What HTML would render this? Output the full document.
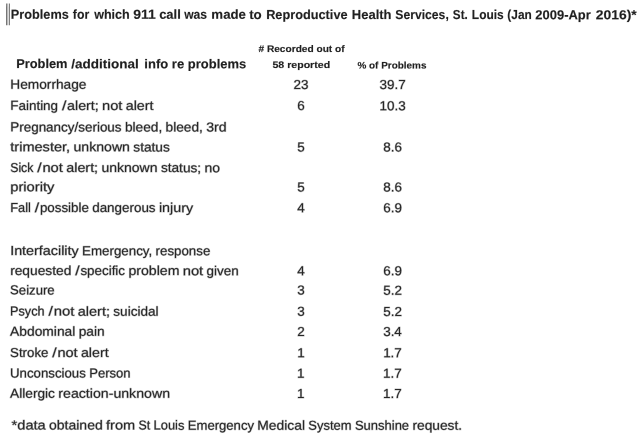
<!DOCTYPE html>
<html><head><meta charset="utf-8"><title>911 calls table</title>
<style>
html,body{margin:0;padding:0;background:#fff;}
body{width:640px;height:436px;overflow:hidden;}
svg{display:block;filter:blur(0.4px);}
text{font-family:"Liberation Sans",Arial,sans-serif;fill:#262626;stroke:#262626;stroke-opacity:0.32;stroke-width:1.0;stroke-linejoin:round;paint-order:stroke;white-space:pre;}
text.b{stroke-width:0.4;fill:#202020;stroke:#202020;}
</style></head><body>
<svg width="640" height="436" viewBox="0 0 640 436">
<rect x="-10" y="-10" width="660" height="456" fill="#ffffff"/>
<g transform="rotate(0.05 320 218)">
<rect x="6.1" y="3.8" width="1.1" height="21.6" fill="#4a4a4a"/>
<rect x="8.6" y="3.8" width="1.1" height="21.6" fill="#6e6e6e"/>
<text class="b" y="18.95" font-size="13.0" font-weight="700"><tspan x="10.70" textLength="57.90" lengthAdjust="spacingAndGlyphs">Problems</tspan> <tspan x="72.70" textLength="16.40" lengthAdjust="spacingAndGlyphs">for</tspan> <tspan x="94.00" textLength="35.60" lengthAdjust="spacingAndGlyphs">which</tspan> <tspan x="133.00" textLength="22.60" lengthAdjust="spacingAndGlyphs">911</tspan> <tspan x="159.00" textLength="21.60" lengthAdjust="spacingAndGlyphs">call</tspan> <tspan x="184.00" textLength="22.90" lengthAdjust="spacingAndGlyphs">was</tspan> <tspan x="211.20" textLength="34.60" lengthAdjust="spacingAndGlyphs">made</tspan> <tspan x="249.00" textLength="12.60" lengthAdjust="spacingAndGlyphs">to</tspan> <tspan x="266.00" textLength="81.40" lengthAdjust="spacingAndGlyphs">Reproductive</tspan> <tspan x="351.70" textLength="39.70" lengthAdjust="spacingAndGlyphs">Health</tspan> <tspan x="395.20" textLength="53.40" lengthAdjust="spacingAndGlyphs">Services,</tspan> <tspan x="452.70" textLength="14.90" lengthAdjust="spacingAndGlyphs">St.</tspan> <tspan x="471.70" textLength="31.90" lengthAdjust="spacingAndGlyphs">Louis</tspan> <tspan x="507.20" textLength="24.40" lengthAdjust="spacingAndGlyphs">(Jan</tspan> <tspan x="535.20" textLength="55.40" lengthAdjust="spacingAndGlyphs">2009-Apr</tspan> <tspan x="595.70" textLength="40.90" lengthAdjust="spacingAndGlyphs">2016)*</tspan></text>
<text class="b" y="52.05" font-size="9.5" font-weight="700"><tspan x="258.30" textLength="86.20" lengthAdjust="spacingAndGlyphs"># Recorded out of</tspan></text>
<text class="b" y="68.35" font-size="12.8" font-weight="700"><tspan x="16.00" textLength="51.40" lengthAdjust="spacingAndGlyphs">Problem</tspan> <tspan x="71.00" textLength="67.60" lengthAdjust="spacingAndGlyphs">/additional</tspan> <tspan x="144.20" textLength="23.90" lengthAdjust="spacingAndGlyphs">info</tspan> <tspan x="171.70" textLength="12.40" lengthAdjust="spacingAndGlyphs">re</tspan> <tspan x="187.70" textLength="58.40" lengthAdjust="spacingAndGlyphs">problems</tspan></text>
<text class="b" y="68.05" font-size="9.5" font-weight="700"><tspan x="272.30" textLength="57.70" lengthAdjust="spacingAndGlyphs">58 reported</tspan></text>
<text class="b" y="68.45" font-size="9.5" font-weight="700"><tspan x="357.30" textLength="69.00" lengthAdjust="spacingAndGlyphs">% of Problems</tspan></text>
<text y="89.05" font-size="13.0" font-weight="400"><tspan x="10.20" textLength="76.18" lengthAdjust="spacingAndGlyphs">Hemorrhage</tspan></text>
<text y="89.05" font-size="13.0" font-weight="400"><tspan x="293.51" textLength="14.97" lengthAdjust="spacingAndGlyphs">23</tspan></text>
<text y="89.05" font-size="13.0" font-weight="400"><tspan x="379.51" textLength="26.19" lengthAdjust="spacingAndGlyphs">39.7</tspan></text>
<text y="110.15" font-size="13.0" font-weight="400"><tspan x="10.20" textLength="47.77" lengthAdjust="spacingAndGlyphs">Fainting</tspan> <tspan x="61.93" textLength="4.40" lengthAdjust="spacingAndGlyphs">/</tspan><tspan x="66.96" textLength="31.67" lengthAdjust="spacingAndGlyphs">alert;</tspan> <tspan x="101.95" textLength="20.37" lengthAdjust="spacingAndGlyphs">not</tspan> <tspan x="125.64" textLength="27.74" lengthAdjust="spacingAndGlyphs">alert</tspan></text>
<text y="110.15" font-size="13.0" font-weight="400"><tspan x="297.26" textLength="7.49" lengthAdjust="spacingAndGlyphs">6</tspan></text>
<text y="110.15" font-size="13.0" font-weight="400"><tspan x="379.51" textLength="26.19" lengthAdjust="spacingAndGlyphs">10.3</tspan></text>
<text y="131.65" font-size="13.0" font-weight="400"><tspan x="10.20" textLength="111.30" lengthAdjust="spacingAndGlyphs">Pregnancy/serious</tspan> <tspan x="124.84" textLength="37.29" lengthAdjust="spacingAndGlyphs">bleed,</tspan> <tspan x="165.47" textLength="37.29" lengthAdjust="spacingAndGlyphs">bleed,</tspan> <tspan x="206.10" textLength="20.40" lengthAdjust="spacingAndGlyphs">3rd</tspan></text>
<text y="151.55" font-size="13.0" font-weight="400"><tspan x="10.20" textLength="59.90" lengthAdjust="spacingAndGlyphs">trimester,</tspan> <tspan x="73.46" textLength="56.44" lengthAdjust="spacingAndGlyphs">unknown</tspan> <tspan x="133.26" textLength="36.50" lengthAdjust="spacingAndGlyphs">status</tspan></text>
<text y="151.55" font-size="13.0" font-weight="400"><tspan x="297.26" textLength="7.49" lengthAdjust="spacingAndGlyphs">5</tspan></text>
<text y="151.55" font-size="13.0" font-weight="400"><tspan x="383.25" textLength="18.70" lengthAdjust="spacingAndGlyphs">8.6</tspan></text>
<text y="172.25" font-size="13.0" font-weight="400"><tspan x="10.20" textLength="23.14" lengthAdjust="spacingAndGlyphs">Sick</tspan> <tspan x="37.33" textLength="4.40" lengthAdjust="spacingAndGlyphs">/</tspan><tspan x="42.38" textLength="20.50" lengthAdjust="spacingAndGlyphs">not</tspan> <tspan x="66.21" textLength="31.86" lengthAdjust="spacingAndGlyphs">alert;</tspan> <tspan x="101.42" textLength="56.10" lengthAdjust="spacingAndGlyphs">unknown</tspan> <tspan x="160.86" textLength="40.24" lengthAdjust="spacingAndGlyphs">status;</tspan> <tspan x="204.43" textLength="15.55" lengthAdjust="spacingAndGlyphs">no</tspan></text>
<text y="191.55" font-size="13.0" font-weight="400"><tspan x="10.20" textLength="44.26" lengthAdjust="spacingAndGlyphs">priority</tspan></text>
<text y="191.55" font-size="13.0" font-weight="400"><tspan x="297.26" textLength="7.49" lengthAdjust="spacingAndGlyphs">5</tspan></text>
<text y="191.55" font-size="13.0" font-weight="400"><tspan x="383.25" textLength="18.70" lengthAdjust="spacingAndGlyphs">8.6</tspan></text>
<text y="212.25" font-size="13.0" font-weight="400"><tspan x="10.20" textLength="20.64" lengthAdjust="spacingAndGlyphs">Fall</tspan> <tspan x="34.83" textLength="4.40" lengthAdjust="spacingAndGlyphs">/</tspan><tspan x="39.88" textLength="48.99" lengthAdjust="spacingAndGlyphs">possible</tspan> <tspan x="92.21" textLength="63.37" lengthAdjust="spacingAndGlyphs">dangerous</tspan> <tspan x="158.92" textLength="34.28" lengthAdjust="spacingAndGlyphs">injury</tspan></text>
<text y="212.25" font-size="13.0" font-weight="400"><tspan x="297.26" textLength="7.49" lengthAdjust="spacingAndGlyphs">4</tspan></text>
<text y="212.25" font-size="13.0" font-weight="400"><tspan x="383.25" textLength="18.70" lengthAdjust="spacingAndGlyphs">6.9</tspan></text>
<text y="255.35" font-size="13.0" font-weight="400"><tspan x="10.20" textLength="68.56" lengthAdjust="spacingAndGlyphs">Interfacility</tspan> <tspan x="82.10" textLength="70.19" lengthAdjust="spacingAndGlyphs">Emergency,</tspan> <tspan x="155.62" textLength="54.71" lengthAdjust="spacingAndGlyphs">response</tspan></text>
<text y="275.25" font-size="13.0" font-weight="400"><tspan x="10.20" textLength="61.20" lengthAdjust="spacingAndGlyphs">requested</tspan> <tspan x="75.39" textLength="4.40" lengthAdjust="spacingAndGlyphs">/</tspan><tspan x="80.44" textLength="44.66" lengthAdjust="spacingAndGlyphs">specific</tspan> <tspan x="128.45" textLength="51.00" lengthAdjust="spacingAndGlyphs">problem</tspan> <tspan x="182.78" textLength="20.50" lengthAdjust="spacingAndGlyphs">not</tspan> <tspan x="206.62" textLength="32.12" lengthAdjust="spacingAndGlyphs">given</tspan></text>
<text y="275.25" font-size="13.0" font-weight="400"><tspan x="297.26" textLength="7.49" lengthAdjust="spacingAndGlyphs">4</tspan></text>
<text y="275.25" font-size="13.0" font-weight="400"><tspan x="383.25" textLength="18.70" lengthAdjust="spacingAndGlyphs">6.9</tspan></text>
<text y="294.65" font-size="13.0" font-weight="400"><tspan x="10.20" textLength="44.49" lengthAdjust="spacingAndGlyphs">Seizure</tspan></text>
<text y="294.65" font-size="13.0" font-weight="400"><tspan x="297.26" textLength="7.49" lengthAdjust="spacingAndGlyphs">3</tspan></text>
<text y="294.65" font-size="13.0" font-weight="400"><tspan x="383.25" textLength="18.70" lengthAdjust="spacingAndGlyphs">5.2</tspan></text>
<text y="315.85" font-size="13.0" font-weight="400"><tspan x="10.20" textLength="34.44" lengthAdjust="spacingAndGlyphs">Psych</tspan> <tspan x="48.69" textLength="4.40" lengthAdjust="spacingAndGlyphs">/</tspan><tspan x="53.77" textLength="20.70" lengthAdjust="spacingAndGlyphs">not</tspan> <tspan x="77.85" textLength="32.18" lengthAdjust="spacingAndGlyphs">alert;</tspan> <tspan x="113.40" textLength="45.23" lengthAdjust="spacingAndGlyphs">suicidal</tspan></text>
<text y="315.85" font-size="13.0" font-weight="400"><tspan x="297.26" textLength="7.49" lengthAdjust="spacingAndGlyphs">3</tspan></text>
<text y="315.85" font-size="13.0" font-weight="400"><tspan x="383.25" textLength="18.70" lengthAdjust="spacingAndGlyphs">5.2</tspan></text>
<text y="335.95" font-size="13.0" font-weight="400"><tspan x="10.20" textLength="65.27" lengthAdjust="spacingAndGlyphs">Abdominal</tspan> <tspan x="78.81" textLength="25.98" lengthAdjust="spacingAndGlyphs">pain</tspan></text>
<text y="335.95" font-size="13.0" font-weight="400"><tspan x="297.26" textLength="7.49" lengthAdjust="spacingAndGlyphs">2</tspan></text>
<text y="335.95" font-size="13.0" font-weight="400"><tspan x="383.25" textLength="18.70" lengthAdjust="spacingAndGlyphs">3.4</tspan></text>
<text y="357.25" font-size="13.0" font-weight="400"><tspan x="10.20" textLength="38.35" lengthAdjust="spacingAndGlyphs">Stroke</tspan> <tspan x="52.48" textLength="4.40" lengthAdjust="spacingAndGlyphs">/</tspan><tspan x="57.50" textLength="20.29" lengthAdjust="spacingAndGlyphs">not</tspan> <tspan x="81.10" textLength="27.63" lengthAdjust="spacingAndGlyphs">alert</tspan></text>
<text y="357.25" font-size="13.0" font-weight="400"><tspan x="297.26" textLength="7.49" lengthAdjust="spacingAndGlyphs">1</tspan></text>
<text y="357.25" font-size="13.0" font-weight="400"><tspan x="383.25" textLength="18.70" lengthAdjust="spacingAndGlyphs">1.7</tspan></text>
<text y="377.75" font-size="13.0" font-weight="400"><tspan x="10.20" textLength="75.77" lengthAdjust="spacingAndGlyphs">Unconscious</tspan> <tspan x="89.31" textLength="41.45" lengthAdjust="spacingAndGlyphs">Person</tspan></text>
<text y="377.75" font-size="13.0" font-weight="400"><tspan x="297.26" textLength="7.49" lengthAdjust="spacingAndGlyphs">1</tspan></text>
<text y="377.75" font-size="13.0" font-weight="400"><tspan x="383.25" textLength="18.70" lengthAdjust="spacingAndGlyphs">1.7</tspan></text>
<text y="397.95" font-size="13.0" font-weight="400"><tspan x="10.20" textLength="44.94" lengthAdjust="spacingAndGlyphs">Allergic</tspan> <tspan x="58.52" textLength="111.65" lengthAdjust="spacingAndGlyphs">reaction-unknown</tspan></text>
<text y="397.95" font-size="13.0" font-weight="400"><tspan x="297.26" textLength="7.49" lengthAdjust="spacingAndGlyphs">1</tspan></text>
<text y="397.95" font-size="13.0" font-weight="400"><tspan x="383.25" textLength="18.70" lengthAdjust="spacingAndGlyphs">1.7</tspan></text>
<text y="429.75" font-size="13.0" font-weight="400"><tspan x="11.80" textLength="34.11" lengthAdjust="spacingAndGlyphs">*data</tspan> <tspan x="49.24" textLength="53.67" lengthAdjust="spacingAndGlyphs">obtained</tspan> <tspan x="106.24" textLength="29.16" lengthAdjust="spacingAndGlyphs">from</tspan> <tspan x="138.72" textLength="11.70" lengthAdjust="spacingAndGlyphs">St</tspan> <tspan x="153.75" textLength="30.83" lengthAdjust="spacingAndGlyphs">Louis</tspan> <tspan x="187.91" textLength="66.30" lengthAdjust="spacingAndGlyphs">Emergency</tspan> <tspan x="257.54" textLength="47.69" lengthAdjust="spacingAndGlyphs">Medical</tspan> <tspan x="308.56" textLength="43.21" lengthAdjust="spacingAndGlyphs">System</tspan> <tspan x="355.11" textLength="54.18" lengthAdjust="spacingAndGlyphs">Sunshine</tspan> <tspan x="412.61" textLength="49.67" lengthAdjust="spacingAndGlyphs">request.</tspan></text>
</g>
</svg></body></html>
